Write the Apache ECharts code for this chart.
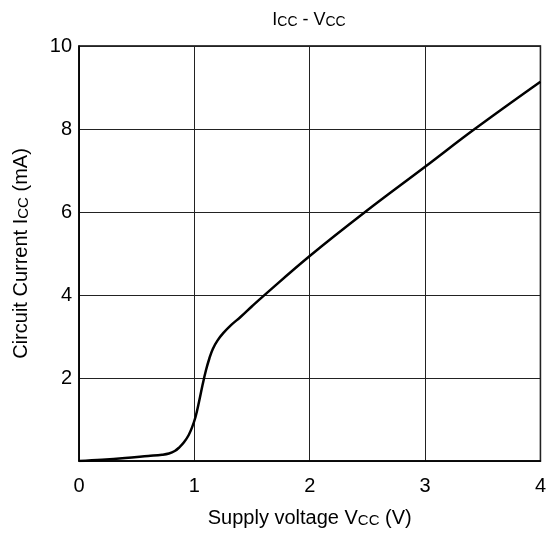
<!DOCTYPE html>
<html>
<head>
<meta charset="utf-8">
<script src="https://cdn.jsdelivr.net/npm/echarts@6/dist/echarts.min.js"></script>
<style>html,body{margin:0;padding:0;background:#fff}#c{width:549px;height:541px}</style>
</head>
<body>
<div id="c"></div>
<script>
var voltage = [0, 0.2, 0.4, 0.6, 0.72, 0.78, 0.83, 0.87, 0.91, 0.95, 0.98, 1.01, 1.04, 1.07, 1.10, 1.13, 1.16, 1.20, 1.25, 1.32, 1.4, 1.5, 1.6, 2.0, 2.48, 3.0, 3.43, 4.0];
var current = [0, 0.03, 0.07, 0.12, 0.15, 0.18, 0.24, 0.33, 0.45, 0.62, 0.81, 1.06, 1.42, 1.82, 2.18, 2.47, 2.70, 2.90, 3.08, 3.28, 3.47, 3.73, 3.98, 4.94, 6.0, 7.09, 8.0, 9.14];
var xTicks = [0, 1, 2, 3, 4];
var yTicks = [2, 4, 6, 8, 10];

var data = voltage.map(function (v, i) { return [v, current[i]]; });
var FONT = 'Liberation Sans, Arial, sans-serif';
var sub = { fontSize: 15, fontFamily: FONT, color: '#000', verticalAlign: 'bottom', lineHeight: 22 };
var main = { fontSize: 20, fontFamily: FONT, color: '#000', verticalAlign: 'bottom', lineHeight: 22 };

var chart = echarts.init(document.getElementById('c'), null, { renderer: 'canvas' });
chart.setOption({
  animation: false,
  backgroundColor: '#fff',
  title: {
    text: '{m|I}{s|CC}{m| - V}{s|CC}',
    left: 304, top: 4, textAlign: 'center',
    textStyle: { fontWeight: 'normal', rich: {
      m: { fontSize: 18, fontFamily: FONT, color: '#000', verticalAlign: 'bottom', lineHeight: 20 },
      s: { fontSize: 14, fontFamily: FONT, color: '#000', verticalAlign: 'bottom', lineHeight: 20 } } }
  },
  grid: { left: 79, right: 6, top: 46, bottom: 80, show: true, borderColor: '#000', borderWidth: 1.5, backgroundColor: 'transparent' },
  xAxis: {
    type: 'value', min: 0, max: 4, interval: 1,
    name: '{m|Supply voltage V}{s|CC}{m| (V)}',
    nameLocation: 'middle', nameGap: 45,
    nameTextStyle: { rich: { m: main, s: sub } },
    axisLine: { show: true, lineStyle: { color: '#000', width: 1.5 } },
    axisTick: { show: false },
    axisLabel: { fontSize: 20, fontFamily: FONT, color: '#000', margin: 15,
      formatter: function (v) { return xTicks.indexOf(v) >= 0 ? String(v) : ''; } },
    splitLine: { show: true, lineStyle: { color: '#222', width: 1 } }
  },
  yAxis: {
    type: 'value', min: 0, max: 10, interval: 2,
    name: '{m|Circuit Current I}{s|CC}{m| (mA)}',
    nameLocation: 'middle', nameGap: 48, nameRotate: 90,
    nameTextStyle: { rich: { m: main, s: sub } },
    axisLine: { show: true, lineStyle: { color: '#000', width: 1.5 } },
    axisTick: { show: false },
    axisLabel: { fontSize: 20, fontFamily: FONT, color: '#000', margin: 7,
      formatter: function (v) { return yTicks.indexOf(v) >= 0 ? String(v) : ''; } },
    splitLine: { show: true, lineStyle: { color: '#222', width: 1 } }
  },
  series: [{
    type: 'line', data: data, smooth: 0.4, showSymbol: false,
    lineStyle: { color: '#000', width: 2.5 }
  }]
});
</script>
</body>
</html>
